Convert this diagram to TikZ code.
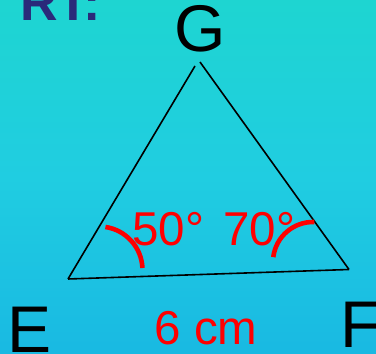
\documentclass[tikz,border=0pt]{standalone}
\usepackage{fontspec}
\setmainfont{Liberation Sans}
\definecolor{bgtop}{RGB}{30,213,209}
\definecolor{bgmid}{RGB}{32,205,225}
\definecolor{bgbot}{RGB}{25,185,226}
\definecolor{rtblue}{RGB}{42,42,122}
\definecolor{angred}{RGB}{255,0,0}
\begin{document}
\begin{tikzpicture}[x=1pt,y=1pt,
  vlabel/.style={inner sep=0pt,font=\fontsize{66}{66}\selectfont,text=black},
  rlabel/.style={inner sep=0pt,font=\fontsize{47.5}{47.5}\selectfont,text=angred},
  side/.style={line width=1.6pt,black},
  angarc/.style={line width=4.6pt,angred}]
\useasboundingbox (0,0) rectangle (376,354);
\shade[top color=bgtop,bottom color=bgbot,middle color=bgmid] (0,0) rectangle (376,354);
\node[inner sep=0pt,anchor=base west,text=rtblue,font=\fontsize{52}{52}\selectfont\bfseries] (rt) at (20,333) {RT:};
% vertices
\coordinate (Gl) at (195,288);
\coordinate (Gr) at (200,292);
\coordinate (E) at (68,75);
\coordinate (F) at (349,84.5);
\draw[side] (Gl) -- (E);
\draw[side] (Gr) -- (F);
\draw[side] (E) -- (F);
% labels
\node[vlabel,anchor=base] (g) at (200,302) {G};
\node[vlabel,anchor=base west] (e) at (7,1) {E};
\node[vlabel,anchor=base west] (f) at (340,6) {F};
\node[rlabel,anchor=base] (len) at (206,9) {6 cm};
\node[rlabel,anchor=base west] (a50) at (132,108) {50°};
\node[rlabel,anchor=base west] (a70) at (223,108) {70°};
% angle arcs
\coordinate (cE) at (99,84);
\coordinate (cF) at (313,92);
\draw[angarc] ([shift={(81.5:43.5)}]cE) arc[start angle=81.5,end angle=2.6,radius=43.5];
\draw[angarc] ([shift={(173:40)}]cF) arc[start angle=173,end angle=88,radius=40];
\end{tikzpicture}
\end{document}
